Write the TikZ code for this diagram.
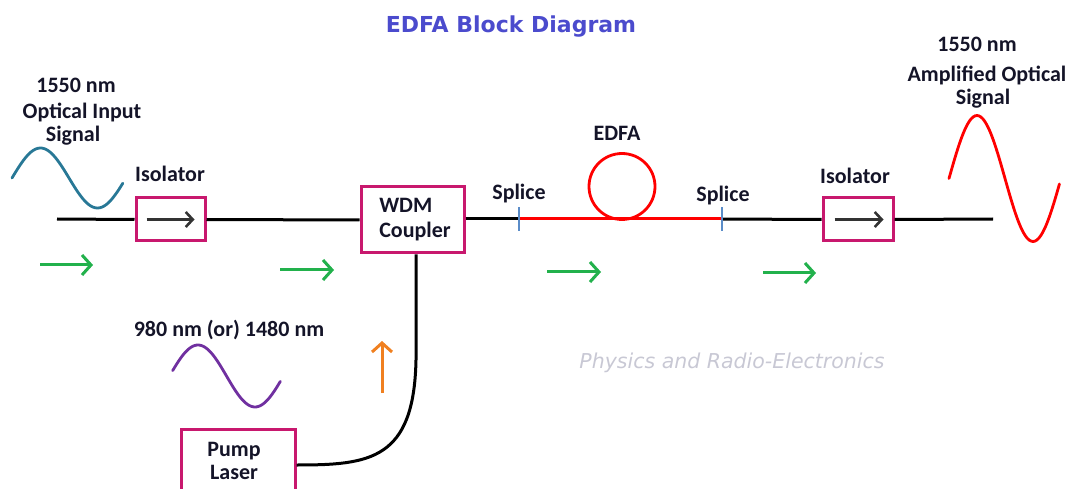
\documentclass[tikz,border=0pt]{standalone}
\usepackage{fontspec}
\setmainfont{Carlito}
\newfontfamily\titlefont{DejaVu Sans}
\newfontfamily\wmfont{DejaVu Sans}
\usetikzlibrary{arrows.meta}
\definecolor{boxpink}{RGB}{200,24,110}
\definecolor{titleblue}{RGB}{75,75,205}
\definecolor{fgreen}{RGB}{34,177,76}
\definecolor{forange}{RGB}{240,128,32}
\definecolor{fpurple}{RGB}{112,48,160}
\definecolor{fteal}{RGB}{40,120,150}
\definecolor{splicecol}{RGB}{90,140,200}
\definecolor{wmgray}{RGB}{200,200,212}
\definecolor{txt}{RGB}{20,20,40}
\begin{document}
\begin{tikzpicture}[x=1pt,y=-1pt,
  lbl/.style={font=\fontsize{22}{25}\selectfont\bfseries, text=txt, align=center, inner sep=0pt},
  box/.style={draw=boxpink, line width=3pt, inner sep=0pt},
  fiber/.style={line width=3pt},
  flow/.style={draw=fgreen, line width=3pt, -{Straight Barb[length=9pt,width=20pt]}},
  isoarrow/.style={draw=black!80, line width=2.6pt, -{Straight Barb[length=7pt,width=15pt]}},
  wave/.style={line width=2.8pt, line cap=round}]
\useasboundingbox (0,0) rectangle (1074,489);
\begin{scope}
\clip (0,0) rectangle (1074,489);

% title
\node[font=\titlefont\bfseries\fontsize{22}{24}\selectfont, text=titleblue, inner sep=0pt] (title) at (511,27) {EDFA Block Diagram};

% input labels
\node[lbl] (inwl) at (76,85) {1550 nm};
\node[lbl] (inl1) at (82,112) {Optical Input};
\node[lbl] (inl2) at (73,136) {Signal};

% output labels
\node[lbl] (outwl) at (977,44) {1550 nm};
\node[lbl] (outl1) at (987,75) {Amplified Optical};
\node[lbl] (outl2) at (983,99) {Signal};

% pump label
\node[lbl] (pumpwl) at (229,330) {980 nm (or) 1480 nm};

% waves
\draw[wave, draw=fteal, domain=0:350, samples=60, smooth] plot ({12+\x/360*114},{178-30*sin(\x)});
\draw[wave, draw=red, domain=0:355, samples=60, smooth] plot ({949+\x/360*112},{178.5-63*sin(\x)});
\draw[wave, draw=fpurple, domain=10:350, samples=60, smooth] plot ({169.5+\x/360*114},{376-31*sin(\x)});

% main fiber coordinates
\coordinate (start) at (57,219);
\coordinate (finish) at (993,219);

% boxes
\node[box, minimum width=69pt, minimum height=43pt] (iso1) at (170.5,219.5) {};
\node[box, minimum width=103pt, minimum height=66pt] (wdm) at (412.5,220) {};
\node[lbl, align=left] (wdmtxt) at (415,220) {WDM\\Coupler};
\node[box, minimum width=70pt, minimum height=43pt] (iso2) at (858,219.5) {};
\node[box, minimum width=114pt, minimum height=72pt] (pump) at (238,465) {};
\node[lbl] (pumptxt) at (234,461) {Pump\\[-2pt]Laser};

\node[lbl] (iso1l) at (170,174) {Isolator};
\node[lbl] (iso2l) at (855,176) {Isolator};

% splices
\coordinate (sp1) at (519,219);
\coordinate (sp2) at (722,219);
\node[lbl] (sp1l) at (519,194) {Splice};
\node[lbl] (sp2l) at (723,196) {Splice};
\node[lbl] (edfal) at (617,133) {EDFA};

% fiber segments
\draw[fiber] (start) -- (iso1.west);
\draw[fiber] (iso1.east) -- (wdm.west);
\draw[fiber] (wdm.east |- sp1) -- (sp1);
\draw[fiber, draw=red] (sp1) -- (sp2);
\draw[fiber] (sp2) -- (iso2.west);
\draw[fiber] (iso2.east) -- (finish);

% EDFA loop
\node[draw=red, line width=2.8pt, circle, minimum size=66pt, inner sep=0pt] (loop) at (622,186.5) {};

% splice marks
\draw[draw=splicecol, line width=2.4pt] ([yshift=-12pt]sp1) -- ([yshift=12pt]sp1);
\draw[draw=splicecol, line width=2.4pt] ([yshift=-12pt]sp2) -- ([yshift=12pt]sp2);

% isolator arrows
\draw[isoarrow] ([xshift=12pt]iso1.west) -- ([xshift=-12pt]iso1.east);
\draw[isoarrow] ([xshift=13pt]iso2.west) -- ([xshift=-11pt]iso2.east);

% pump fiber
\coordinate (bend) at (416,360);
\draw[fiber] (wdm.south -| bend) -- (bend) .. controls (414,460) and (370,465) .. (pump.east);

% flow arrows
\coordinate (g1a) at (40,265); \coordinate (g1b) at (93,265);
\coordinate (g2a) at (280,270); \coordinate (g2b) at (334,270);
\coordinate (g3a) at (547,272); \coordinate (g3b) at (601,272);
\coordinate (g4a) at (763,273); \coordinate (g4b) at (816,273);
\draw[flow] (g1a) -- (g1b);
\draw[flow] (g2a) -- (g2b);
\draw[flow] (g3a) -- (g3b);
\draw[flow] (g4a) -- (g4b);
\coordinate (oa) at (382,393); \coordinate (ob) at (382,341);
\draw[draw=forange, line width=3pt, -{Straight Barb[length=9pt,width=20pt]}] (oa) -- (ob);

% watermark
\node[font=\wmfont\itshape\fontsize{20.5}{22}\selectfont, text=wmgray, inner sep=0pt] (wm) at (732,363) {Physics and Radio-Electronics};
\end{scope}
\end{tikzpicture}
\end{document}
